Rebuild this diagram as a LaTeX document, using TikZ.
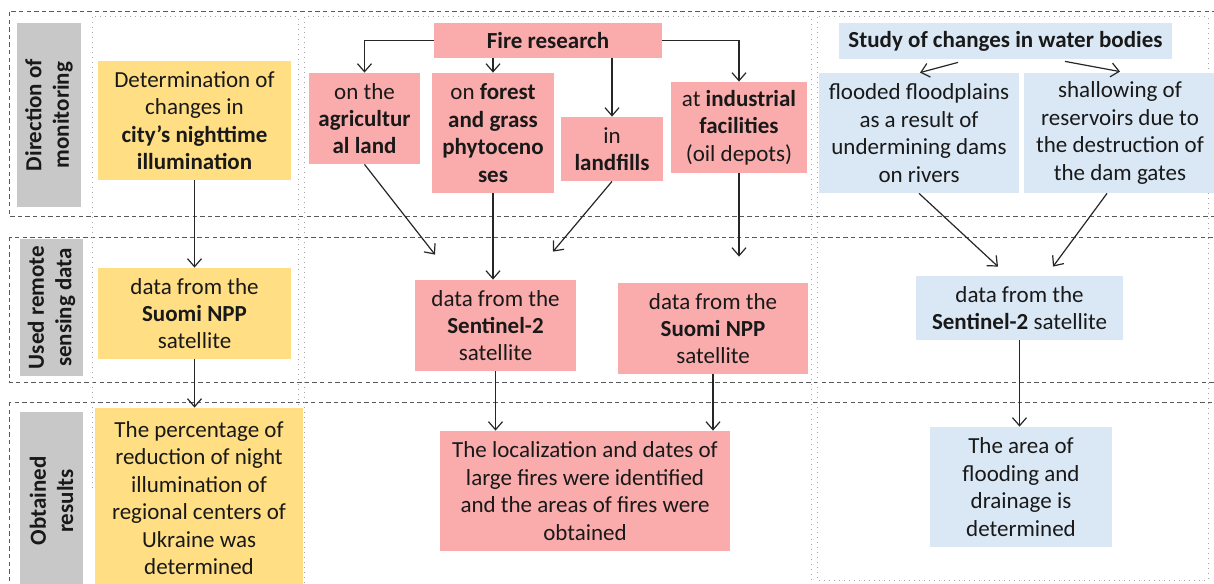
\documentclass[tikz,border=0pt]{standalone}
\usepackage{fontspec}
\setmainfont{Carlito}
\usepackage{tikz}
\usetikzlibrary{arrows.meta, positioning}
\definecolor{labelgray}{RGB}{200, 200, 200}
\definecolor{nightyellow}{RGB}{255, 222, 132}
\definecolor{firepink}{RGB}{250, 172, 172}
\definecolor{waterblue}{RGB}{218, 232, 246}

\begin{document}
\begin{tikzpicture}[
    x=0.5pt, y=-0.5pt,
    >={Straight Barb[length=4pt, width=7pt]},
    every node/.style={font=\fontsize{11.5}{13.7}\selectfont, text=black!90},
    rowframe/.style={draw=black!65, dash pattern=on 2.2pt off 1.6pt, line width=0.5pt},
    colframe/.style={draw=black!35, dotted, line width=0.5pt},
    rowlabel/.style={rectangle, fill=labelgray, rotate=90, align=center,
                     font=\fontsize{11.5}{13.7}\selectfont\bfseries},
    nightbox/.style={rectangle, fill=nightyellow, align=center},
    firebox/.style={rectangle, fill=firepink, align=center},
    waterbox/.style={rectangle, fill=waterblue, align=center},
    link/.style={->, line width=0.6pt, black!85}
]
    \useasboundingbox (0,0) rectangle (1214,583);
    \clip (0,0) rectangle (1214,583);

    % frames of the rows and columns
    \draw[rowframe] (9,12) rectangle (1222,216);
    \draw[rowframe] (9,237) rectangle (1222,382);
    \draw[rowframe] (9,402) rectangle (1222,600);
    \draw[colframe] (92,17) rectangle (298,488);
    \draw[colframe] (304,17) rectangle (811,600);
    \draw[colframe] (817,17) rectangle (1208,580);

    % row labels
    \node[rowlabel, minimum width=92pt, minimum height=32pt] (direction) at (49,115) {Direction of\\monitoring};
    \node[rowlabel, minimum width=67.5pt, minimum height=31.5pt] (sensing) at (51.5,307.5) {Used remote\\sensing data};
    \node[rowlabel, minimum width=89pt, minimum height=31.5pt] (results) at (51.5,501) {Obtained\\results};

    % night illumination
    \node[nightbox, minimum width=96.5pt, minimum height=59.5pt] (city) at (194.5,120.5)
        {Determination of\\changes in\\\textbf{city's nighttime}\\\textbf{illumination}};
    \node[nightbox, minimum width=96.5pt, minimum height=45.5pt] (suomi1) at (194.5,313.5)
        {data from the\\\textbf{Suomi NPP}\\satellite};
    \node[nightbox, minimum width=104pt, minimum height=90pt] (percent) at (199,498)
        {The percentage of\\reduction of night\\illumination of\\regional centers of\\Ukraine was\\determined};

    % fires
    \node[firebox, minimum width=114pt, minimum height=17.5pt] (fire) at (548,40.5) {\textbf{Fire research}};
    \node[firebox, minimum width=55.5pt, minimum height=45.5pt] (agri) at (364.5,118.5)
        {on the\\\textbf{agricultur}\\\textbf{al land}};
    \node[firebox, minimum width=61pt, minimum height=60pt] (forest) at (493,133)
        {on \textbf{forest}\\\textbf{and grass}\\\textbf{phytoceno}\\\textbf{ses}};
    \node[firebox, minimum width=51pt, minimum height=32pt] (landfill) at (612,149)
        {in\\\textbf{landfills}};
    \node[firebox, minimum width=68pt, minimum height=45.5pt] (industry) at (739,127.5)
        {at \textbf{industrial}\\\textbf{facilities}\\(oil depots)};
    \node[firebox, minimum width=80.5pt, minimum height=45.5pt] (sentinel1) at (495.5,325.5)
        {data from the\\\textbf{Sentinel-2}\\satellite};
    \node[firebox, minimum width=95pt, minimum height=45.5pt] (suomi2) at (713,328.5)
        {data from the\\\textbf{Suomi NPP}\\satellite};
    \node[firebox, minimum width=145pt, minimum height=60pt] (fires) at (585,491)
        {The localization and dates of\\large fires were identified\\and the areas of fires were\\obtained};

    % water bodies
    \node[waterbox, minimum width=166.5pt, minimum height=18pt] (water) at (1005.5,41)
        {\textbf{Study of changes in water bodies}};
    \node[waterbox, minimum width=100pt, minimum height=60pt] (flood) at (919,133)
        {flooded floodplains\\as a result of\\undermining dams\\on rivers};
    \node[waterbox, minimum width=96pt, minimum height=60pt] (shallow) at (1120,133)
        {shallowing of\\reservoirs due to\\the destruction of\\the dam gates};
    \node[waterbox, minimum width=103.5pt, minimum height=32pt] (sentinel2) at (1019.5,308)
        {data from the\\\textbf{Sentinel-2} satellite};
    \node[waterbox, minimum width=91pt, minimum height=60pt] (drainage) at (1021,487)
        {The area of\\flooding and\\drainage is\\determined};

    % connectors
    \draw[link] (city) -- (suomi1);
    \draw[link] (suomi1.south) -- (suomi1.south |- percent.north);

    \draw[link] (fire.west) -| (agri.north);
    \draw[link] (fire.south -| forest.north) -- (forest.north);
    \draw[link] (fire.south -| landfill.north) -- (landfill.north);
    \draw[link] (fire.east) -| (industry.north);
    \draw[link] (agri.south) -- ([xshift=-30.25pt, yshift=12.5pt]sentinel1.north);
    \draw[link] (forest.south) -- (forest.south |- sentinel1.north);
    \draw[link] (landfill.south) -- ([xshift=28.75pt, yshift=14pt]sentinel1.north);
    \draw[link] (industry.south) -- ([xshift=13pt, yshift=13pt]suomi2.north);
    \draw[link] (sentinel1.south) -- (sentinel1.south |- fires.north);
    \draw[link] (suomi2.south) -- (suomi2.south |- fires.north);

    \draw[link] ([xshift=-23.75pt, yshift=-1.5pt]water.south) -- ([xshift=0.5pt]flood.north);
    \draw[link] ([xshift=29.75pt, yshift=-1pt]water.south) -- ([yshift=0.5pt]shallow.north);
    \draw[link] (flood.south) -- ([xshift=-10.75pt, yshift=4.5pt]sentinel2.north);
    \draw[link] ([xshift=-6.5pt]shallow.south) -- ([xshift=16.75pt, yshift=4.5pt]sentinel2.north);
    \draw[link] (sentinel2.south) -- (sentinel2.south |- drainage.north);
\end{tikzpicture}
\end{document}
